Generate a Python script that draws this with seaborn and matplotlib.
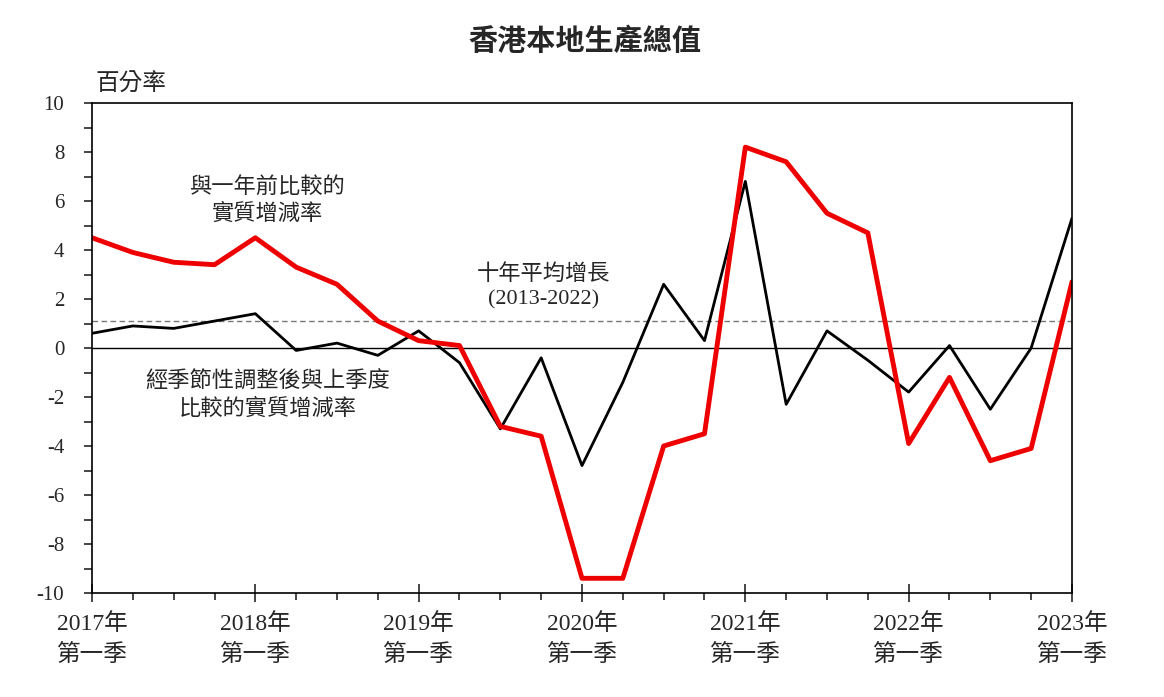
import numpy as np
import pandas as pd
import matplotlib.pyplot as plt
import seaborn as sns
from matplotlib.ticker import MultipleLocator

# quarters 2017Q1 .. 2023Q1
quarters = list(range(25))
year_labels = ["2017年\n第一季", "2018年\n第一季", "2019年\n第一季", "2020年\n第一季",
               "2021年\n第一季", "2022年\n第一季", "2023年\n第一季"]

# year-on-year real change (%)
yoy = [4.5, 3.9, 3.5, 3.4, 4.5, 3.3, 2.6, 1.1,
       0.3, 0.1, -3.2, -3.6, -9.4, -9.4, -4.0, -3.5,
       8.2, 7.6, 5.5, 4.7, -3.9, -1.2, -4.6, -4.1, 2.7]
# seasonally adjusted quarter-on-quarter real change (%)
qoq = [0.6, 0.9, 0.8, 1.1, 1.4, -0.1, 0.2, -0.3,
       0.7, -0.6, -3.3, -0.4, -4.8, -1.4, 2.6, 0.3,
       6.8, -2.3, 0.7, -0.5, -1.8, 0.1, -2.5, 0.0, 5.3]
trend_avg = 1.1

df = pd.DataFrame({"q": quarters, "yoy": yoy, "qoq": qoq})

sns.set_style("ticks")
plt.rcParams['font.family'] = ['Liberation Serif', 'Noto Sans CJK TC', 'DejaVu Sans']
plt.rcParams['axes.unicode_minus'] = False

fig = plt.figure(figsize=(11.64, 6.97), dpi=100)
ax = fig.add_axes([92/1164, 1 - 593/697, (1072-92)/1164, (593-103)/697])

ax.axhline(0, color="black", lw=1)
ax.axhline(trend_avg, color="#777777", lw=1, ls=(0, (4, 2.5)))
sns.lineplot(data=df, x="q", y="qoq", color="black", lw=2, ax=ax)
sns.lineplot(data=df, x="q", y="yoy", color="#ee0000", lw=3.5, ax=ax)

ax.set_xlim(0, 24)
ax.set_ylim(-10, 10)
ax.set_xlabel("")
ax.set_ylabel("")
ax.set_xticks(range(0, 25, 4))
ax.set_xticklabels(year_labels, fontsize=17, linespacing=1.5)
ax.xaxis.set_minor_locator(MultipleLocator(1))
ax.yaxis.set_major_locator(MultipleLocator(2))
ax.yaxis.set_minor_locator(MultipleLocator(1))
ax.tick_params(axis="x", which="major", direction="inout", length=13, width=1.2, pad=8)
ax.tick_params(axis="x", which="minor", direction="out", length=5, width=1.2)
ax.tick_params(axis="y", which="both", direction="out", length=6, width=1.2,
               labelsize=15, pad=14)
for s in ax.spines.values():
    s.set_linewidth(1.2)
    s.set_color("black")

ax.text(4.3, 6.0, "與一年前比較的\n實質增減率", ha="center", va="center",
        fontsize=16, linespacing=1.35)
ax.text(11.05, 2.5, "十年平均增長\n(2013-2022)", ha="center", va="center",
        fontsize=16, linespacing=1.4)
ax.text(4.3, -1.95, "經季節性調整後與上季度\n比較的實質增減率", ha="center", va="center",
        fontsize=16, linespacing=1.35)

fig.text(95/1164, 1 - 85/697, "百分率", ha="left", va="center", fontsize=17)
fig.text(585/1164, 1 - 42/697, "香港本地生產總值", ha="center", va="center",
         fontsize=21, fontweight="bold")

fig.savefig("out.png", dpi=100, facecolor="white")
